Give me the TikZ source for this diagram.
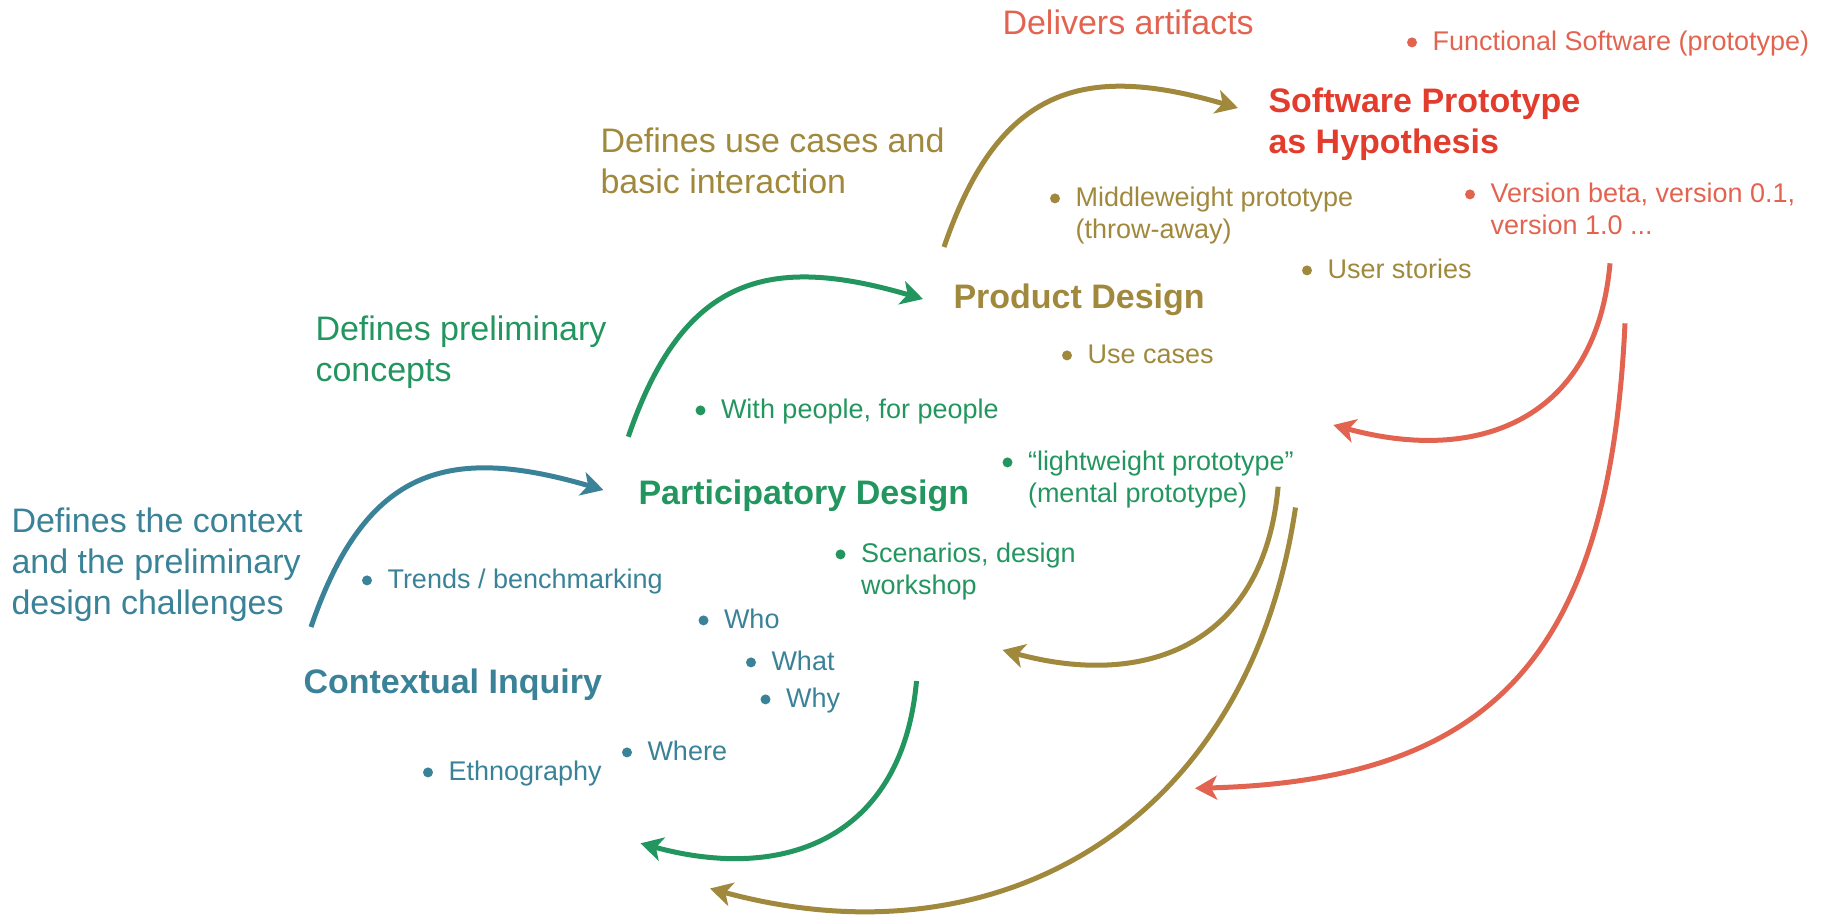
\documentclass[tikz,border=0pt]{standalone}
\usepackage{fontspec}
\setmainfont{Liberation Sans}
\usetikzlibrary{arrows.meta}

\definecolor{ciTeal}{HTML}{3A8298}
\definecolor{pdGreen}{HTML}{23965F}
\definecolor{prOlive}{HTML}{A0893C}
\definecolor{swRed}{HTML}{E23C2D}
\definecolor{swSalmon}{HTML}{E26450}

% stacked lines whose baseline is that of the first line
\newcommand{\stackedlines}[1]{\begin{tabular}[t]{@{}l@{}}#1\end{tabular}}

\tikzset{
  head/.style={font=\bfseries\fontsize{13.6}{16.4}\selectfont, anchor=base west, inner sep=0pt},
  note/.style={font=\fontsize{13.6}{16.4}\selectfont, anchor=base west, inner sep=0pt},
  item/.style={font=\fontsize{10.8}{13}\selectfont, anchor=base west, inner sep=0pt},
  flow/.style={line width=2pt, -{Stealth[length=8.8pt, width=9.6pt, inset=2.4pt]}},
}

\begin{document}
\begin{tikzpicture}[x=0.4pt, y=-0.4pt]
\useasboundingbox (0,0) rectangle (1825,915);

% phase titles
\node[head, text=ciTeal]  (ci) at (303,693) {Contextual Inquiry};
\node[head, text=pdGreen] (pd) at (638,504) {Participatory Design};
\node[head, text=prOlive] (pr) at (953,308) {Product Design};
\node[head, text=swRed]   (sw) at (1268,112) {\stackedlines{Software Prototype\\as Hypothesis}};

% what each phase hands on
\node[note, text=ciTeal]   (ciNote) at (11,532)   {\stackedlines{Defines the context\\and the preliminary\\design challenges}};
\node[note, text=pdGreen]  (pdNote) at (315,340)  {\stackedlines{Defines preliminary\\concepts}};
\node[note, text=prOlive]  (prNote) at (600,152)  {\stackedlines{Defines use cases and\\basic interaction}};
\node[note, text=swSalmon] (swNote) at (1002,34)  {Delivers artifacts};

% bullet items
\node[item, text=ciTeal] (iTrends) at (387,588)   {Trends / benchmarking};
\node[item, text=ciTeal] (iWho)    at (723.5,628) {Who};
\node[item, text=ciTeal] (iWhat)   at (771,670)   {What};
\node[item, text=ciTeal] (iWhy)    at (785.5,707) {Why};
\node[item, text=ciTeal] (iWhere)  at (647,760)   {Where};
\node[item, text=ciTeal] (iEthno)  at (448,780)   {Ethnography};

\node[item, text=pdGreen] (iPeople) at (720.5,418) {With people, for people};
\node[item, text=pdGreen] (iLight)  at (1027.5,470) {\stackedlines{“lightweight prototype”\\(mental prototype)}};
\node[item, text=pdGreen] (iScen)   at (860.5,562) {\stackedlines{Scenarios, design\\workshop}};

\node[item, text=prOlive] (iMiddle) at (1075,206) {\stackedlines{Middleweight prototype\\(throw-away)}};
\node[item, text=prOlive] (iUse)    at (1087,363) {Use cases};
\node[item, text=prOlive] (iStory)  at (1327,278) {User stories};

\node[item, text=swSalmon] (iFunc) at (1432,50)  {Functional Software (prototype)};
\node[item, text=swSalmon] (iVer)  at (1490,202) {\stackedlines{Version beta, version 0.1,\\version 1.0 ...}};

\foreach \n/\c in {iTrends/ciTeal, iWho/ciTeal, iWhat/ciTeal, iWhy/ciTeal, iWhere/ciTeal, iEthno/ciTeal,
                   iPeople/pdGreen, iLight/pdGreen, iScen/pdGreen,
                   iMiddle/prOlive, iUse/prOlive, iStory/prOlive,
                   iFunc/swSalmon, iVer/swSalmon}
  \fill[\c] (\n.base west) ++(-20,-7.6) circle[radius=5];

% arrow end points
\coordinate (ciS)  at (311,627);
\coordinate (pdE)  at (603.5,490);
\coordinate (pdS)  at (628.3,436.7);
\coordinate (prE)  at (923,299);
\coordinate (prS)  at (944,247);
\coordinate (swE)  at (1238,108);
\coordinate (swR1) at (1610,263.3);
\coordinate (prR1) at (1333.3,425);
\coordinate (swR2) at (1625,323.3);
\coordinate (pdR2) at (1195,788.3);
\coordinate (prR3) at (1278.1,486.7);
\coordinate (pdR3) at (1002.5,650);
\coordinate (prR4) at (1295.5,507.5);
\coordinate (ciR4) at (710,888.5);
\coordinate (pdR5) at (916.5,681);
\coordinate (ciR5) at (640.5,843.3);

% forward steps
\draw[flow, ciTeal]  (ciS) .. controls +(55,-161) and +(-154,-45) .. (pdE);
\draw[flow, pdGreen] (pdS) .. controls +(55,-161) and +(-154,-45) .. (prE);
\draw[flow, prOlive] (prS) .. controls +(55,-161) and +(-154,-45) .. (swE);

% feedback loops
\draw[flow, swSalmon] (swR1) .. controls +(-14,157) and +(144.5,39.4) .. (prR1);
\draw[flow, swSalmon] (swR2) .. controls +(-15.5,330) and +(300,-8) .. (pdR2);
\draw[flow, prOlive]  (prR3) .. controls +(-14,157) and +(144.5,39.4) .. (pdR3);
\draw[flow, prOlive]  (prR4) .. controls +(-47,316.5) and +(289.5,78.6) .. (ciR4);
\draw[flow, pdGreen]  (pdR5) .. controls +(-14,157) and +(144.5,39.4) .. (ciR5);
\end{tikzpicture}
\end{document}
